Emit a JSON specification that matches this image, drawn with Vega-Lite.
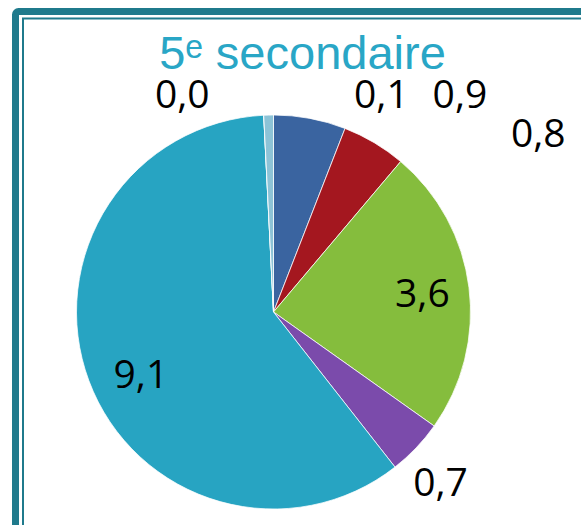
{
  "$schema": "https://vega.github.io/schema/vega-lite/v6.json",
  "width": 501,
  "height": 586,
  "autosize": {"type": "none"},
  "padding": {"left": 23, "top": 19, "right": 60, "bottom": 0},
  "background": "white",
  "title": {"text": "5ᵉ secondaire", "color": "#29a6c6", "font": "Liberation Sans", "fontSize": 47, "fontWeight": "normal", "anchor": "middle", "dx": 29, "offset": -108, "baseline": "alphabetic"},
  "config": {
    "view": {"stroke": null},
    "locale": {"number": {"decimal": ",", "thousands": " ", "grouping": [3], "currency": ["", " €"]}}
  },
  "data": {"values": [
    {"idx": 1, "cat": "A", "value": 0.9},
    {"idx": 2, "cat": "B", "value": 0.8},
    {"idx": 3, "cat": "C", "value": 3.6},
    {"idx": 4, "cat": "D", "value": 0.7},
    {"idx": 5, "cat": "E", "value": 9.1},
    {"idx": 6, "cat": "F", "value": 0},
    {"idx": 7, "cat": "G", "value": 0.12}
  ]},
  "layer": [
    {
      "data": {"values": [{}]},
      "mark": {"type": "rect", "fill": "transparent", "stroke": "#1f7a8c", "strokeWidth": 7, "cornerRadius": 3},
      "encoding": {"x": {"value": -7.5}, "y": {"value": -7.5}, "x2": {"value": 800}, "y2": {"value": 800}}
    },
    {
      "data": {"values": [{}]},
      "mark": {"type": "rect", "fill": "transparent", "stroke": "#1f7a8c", "strokeWidth": 2},
      "encoding": {"x": {"value": 0}, "y": {"value": -0.5}, "x2": {"value": 800}, "y2": {"value": 800}}
    },
    {
      "mark": {"type": "arc", "outerRadius": 197, "stroke": "white", "strokeWidth": 0.75},
      "encoding": {
        "theta": {"field": "value", "type": "quantitative", "stack": true},
        "order": {"field": "idx", "type": "quantitative"},
        "color": {"field": "cat", "type": "nominal", "legend": null,
          "scale": {"domain": ["A", "B", "C", "D", "E", "F", "G"], "range": ["#3a64a0", "#a4171f", "#85bd3d", "#7b4bab", "#27a4c2", "#8cc3d7", "#8cc3d7"]}}
      }
    },
    {
      "mark": {"type": "text", "radius": 148, "font": "Open Sans", "fontSize": 39, "color": "black", "dx": 2, "dy": 2},
      "encoding": {
        "theta": {"field": "value", "type": "quantitative", "stack": true},
        "order": {"field": "idx", "type": "quantitative"},
        "text": {"field": "value", "type": "quantitative", "format": ".1f", "condition": {"test": "datum.cat !== 'C'", "value": ""}}
      }
    },
    {
      "mark": {"type": "text", "radius": 148, "font": "Open Sans", "fontSize": 39, "color": "black", "dx": 6, "dy": 12},
      "encoding": {
        "theta": {"field": "value", "type": "quantitative", "stack": true},
        "order": {"field": "idx", "type": "quantitative"},
        "text": {"field": "value", "type": "quantitative", "format": ".1f", "condition": {"test": "datum.cat !== 'E'", "value": ""}}
      }
    },
    {
      "mark": {"type": "text", "radius": 246, "font": "Open Sans", "fontSize": 39, "color": "black", "dx": 141, "dy": 26},
      "encoding": {
        "theta": {"field": "value", "type": "quantitative", "stack": true},
        "order": {"field": "idx", "type": "quantitative"},
        "text": {"field": "value", "type": "quantitative", "format": ".1f", "condition": {"test": "datum.cat !== 'A'", "value": ""}}
      }
    },
    {
      "mark": {"type": "text", "radius": 246, "font": "Open Sans", "fontSize": 39, "color": "black", "dx": 139, "dy": 34},
      "encoding": {
        "theta": {"field": "value", "type": "quantitative", "stack": true},
        "order": {"field": "idx", "type": "quantitative"},
        "text": {"field": "value", "type": "quantitative", "format": ".1f", "condition": {"test": "datum.cat !== 'B'", "value": ""}}
      }
    },
    {
      "mark": {"type": "text", "radius": 246, "font": "Open Sans", "fontSize": 39, "color": "black", "dx": -11, "dy": 2},
      "encoding": {
        "theta": {"field": "value", "type": "quantitative", "stack": true},
        "order": {"field": "idx", "type": "quantitative"},
        "text": {"field": "value", "type": "quantitative", "format": ".1f", "condition": {"test": "datum.cat !== 'D'", "value": ""}}
      }
    },
    {
      "mark": {"type": "text", "radius": 246, "font": "Open Sans", "fontSize": 39, "color": "black", "dx": -79, "dy": 30},
      "encoding": {
        "theta": {"field": "value", "type": "quantitative", "stack": true},
        "order": {"field": "idx", "type": "quantitative"},
        "text": {"field": "value", "type": "quantitative", "format": ".1f", "condition": {"test": "datum.cat !== 'F'", "value": ""}}
      }
    },
    {
      "mark": {"type": "text", "radius": 246, "font": "Open Sans", "fontSize": 39, "color": "black", "dx": 114, "dy": 30},
      "encoding": {
        "theta": {"field": "value", "type": "quantitative", "stack": true},
        "order": {"field": "idx", "type": "quantitative"},
        "text": {"field": "value", "type": "quantitative", "format": ".1f", "condition": {"test": "datum.cat !== 'G'", "value": ""}}
      }
    }
  ]
}
